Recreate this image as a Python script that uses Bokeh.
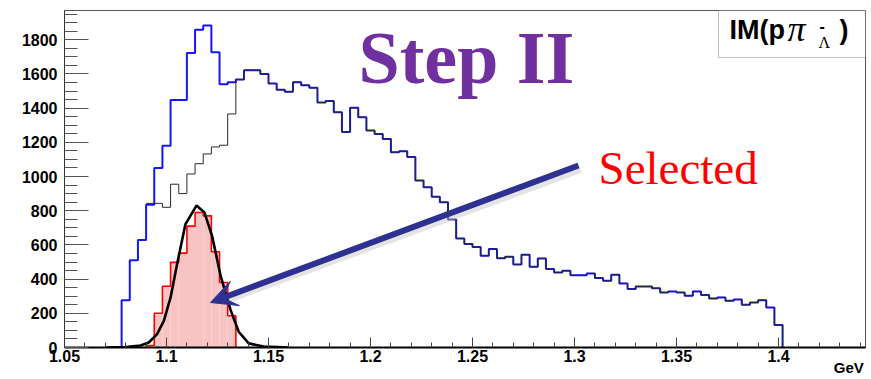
from bokeh.plotting import figure
from bokeh.models import (Range1d, FixedTicker, Label, BoxAnnotation, Arrow, VeeHead)
from bokeh.embed import file_html
from bokeh.resources import INLINE

# ---------------- data ----------------
BIN = 0.004
BLUE_START = 1.074          # lower edge of first blue bin
blue_counts = [
    0, 277, 510, 629, 835, 1050, 1180, 1448, 1448, 1722,
    1859, 1884, 1727, 1540, 1552, 1567, 1622, 1622, 1600, 1544,
    1507, 1496, 1552, 1534, 1519, 1433, 1442, 1376, 1261, 1402,
    1347, 1269, 1249, 1220, 1142, 1148, 1114, 976, 937, 882,
    849, 749, 638, 605, 588, 537, 576, 522, 531, 486,
    543, 472, 521, 459, 439, 449, 422, 423, 433, 406,
    390, 426, 375, 342, 357, 357, 346, 322, 328, 322,
    303, 328, 307, 287, 293, 273, 281, 250, 263, 277,
    234, 131]

GRAY_START = 1.090
gray_low_counts = [843, 843, 820, 955, 900, 1015, 1075, 1132, 1173, 1183, 1366]
gray_counts = gray_low_counts + blue_counts[15:]   # identical to blue from 1.134 on

RED_START = 1.090
red_counts = [12, 200, 358, 498, 552, 710, 790, 770, 560, 380, 186]

fit_x = [1.070, 1.080, 1.0873, 1.0913, 1.0954, 1.0987, 1.1020, 1.1052, 1.1093,
         1.1147, 1.1186, 1.1224, 1.1265, 1.1314, 1.1354, 1.1403, 1.1477, 1.160]
fit_y = [0, 2, 12, 29, 78, 156, 293, 488, 722,
         830, 790, 650, 420, 220, 92, 24, 6, 0]

x_ticks = [1.05, 1.1, 1.15, 1.2, 1.25, 1.3, 1.35, 1.4]
x_tick_labels = ["1.05", "1.1", "1.15", "1.2", "1.25", "1.3", "1.35", "1.4"]
y_ticks = [0, 200, 400, 600, 800, 1000, 1200, 1400, 1600, 1800]

X0, X1 = 1.05, 1.442647
Y0, Y1 = 0, 1971

# frame geometry on the canvas (px)
FL, FT, FW, FH = 64, 10, 801, 337
W, H = 870, 378


def px(x):
    return X0 + (x - FL) / FW * (X1 - X0)


def py(y):
    return Y1 - (y - FT) / FH * (Y1 - Y0)


def outline(start, counts, from_zero=True):
    edges = [start + i * BIN for i in range(len(counts) + 1)]
    xs, ys = ([edges[0]], [0]) if from_zero else ([], [])
    for i, v in enumerate(counts):
        xs += [edges[i], edges[i + 1]]
        ys += [v, v]
    xs.append(edges[-1])
    ys.append(0)
    return xs, ys


p = figure(width=W, height=H, x_range=Range1d(X0, X1), y_range=Range1d(Y0, Y1),
           output_backend="svg", toolbar_location=None,
           min_border_left=FL, min_border_right=W - FL - FW, min_border_top=FT,
           min_border_bottom=H - FT - FH)
p.background_fill_color = "white"
p.border_fill_color = "white"
p.outline_line_color = "#555555"
p.outline_line_width = 1
p.xgrid.visible = False
p.ygrid.visible = False

# axes
xa = p.xaxis[0]
xa.ticker = FixedTicker(ticks=x_ticks,
                        minor_ticks=[round(1.05 + 0.01 * i, 3) for i in range(40)])
xa.major_label_overrides = {t: l for t, l in zip(x_ticks, x_tick_labels)}
xa.axis_line_color = "black"
xa.axis_line_width = 2
xa.major_tick_in = 10
xa.major_tick_out = 0
xa.minor_tick_in = 5
xa.minor_tick_out = 0
xa.major_tick_line_color = "#444444"
xa.minor_tick_line_color = "#444444"
xa.major_label_standoff = 2
xa.major_label_text_font = "Liberation Sans"
xa.major_label_text_font_style = "bold"
xa.major_label_text_font_size = "16px"
xa.major_label_text_color = "black"
# the label is centred on the axis end; trailing no-break spaces push "GeV" left
xa.axis_label = "GeV" + "\u00a0" * 8
xa.axis_label_align = "end"
xa.axis_label_standoff = -6
xa.axis_label_text_font = "Liberation Sans"
xa.axis_label_text_font_style = "bold"
xa.axis_label_text_font_size = "15px"
xa.axis_label_text_color = "black"

ya = p.yaxis[0]
ya.ticker = FixedTicker(ticks=y_ticks, minor_ticks=[50 * i for i in range(40)])
ya.axis_line_color = "#333333"
ya.axis_line_width = 1
ya.major_tick_in = 24
ya.major_tick_out = 0
ya.minor_tick_in = 13
ya.minor_tick_out = 0
ya.major_tick_line_color = "#555555"
ya.minor_tick_line_color = "#555555"
ya.major_label_standoff = 7
ya.major_label_text_font = "Liberation Sans"
ya.major_label_text_font_style = "bold"
ya.major_label_text_font_size = "16px"
ya.major_label_text_color = "black"

# red selected histogram (fill + outline)
red_edges = [RED_START + i * BIN for i in range(len(red_counts) + 1)]
p.quad(left=red_edges[:-1], right=red_edges[1:], bottom=0, top=red_counts,
       fill_color="#f7c3c3", line_color=None)
rx, ry = outline(RED_START, red_counts)
p.line(rx, ry, line_color="#ff0000", line_width=1.6)

# blue histogram
bx, by = outline(BLUE_START, blue_counts)
p.line(bx, by, line_color="#1414ff", line_width=2)

# black histogram
gx, gy = outline(GRAY_START, gray_counts, from_zero=False)
p.line(gx, gy, line_color="#2a2a2a", line_width=1)

# gaussian fit
p.line(fit_x, fit_y, line_color="black", line_width=2.6)

# arrow with soft shadow
tail = (578, 165)
tip = (210, 302)
p.line([px(tail[0] + 2), px(tip[0] + 18)], [py(tail[1] + 4), py(tip[1] - 3)],
       line_color="#c4c4c4", line_width=7, line_alpha=0.45)
p.add_layout(Arrow(end=VeeHead(size=26, fill_color="#2e3192", line_color="#2e3192",
                               line_width=1),
                   x_start=px(tail[0]), y_start=py(tail[1]),
                   x_end=px(tip[0]), y_end=py(tip[1]),
                   line_color="#2e3192", line_width=6))


def label(xp, yp_mid, text, font, size, color="black", style="normal", align="left"):
    p.add_layout(Label(x=px(xp), y=py(yp_mid), text=text, text_font=font,
                       text_font_style=style,
                       text_font_size=f"{size}px", text_color=color,
                       text_baseline="middle", text_align=align))


# texts (vertical positions are the middle of the em box)
label(358, 57, "Step II", "Liberation Serif", 74, "#7030a0", style="bold")
label(598, 167, "Selected", "Liberation Serif", 47, "#ff0000")

# title box
p.add_layout(BoxAnnotation(left=px(718), right=X1, top=Y1, bottom=py(57),
                           fill_color="white", fill_alpha=1,
                           line_color="#333333", line_width=1))
label(729, 29.6, "IM(p", "Liberation Sans", 27, style="bold")
label(787, 28, "π", "Liberation Serif", 36, style="italic")
label(819, 25, "-", "Liberation Sans", 16, style="bold")
label(818, 41.6, "Λ", "Liberation Serif", 16)
label(839, 29.6, ")", "Liberation Sans", 27, style="bold")

open("out.html", "w").write(file_html(p, INLINE))
